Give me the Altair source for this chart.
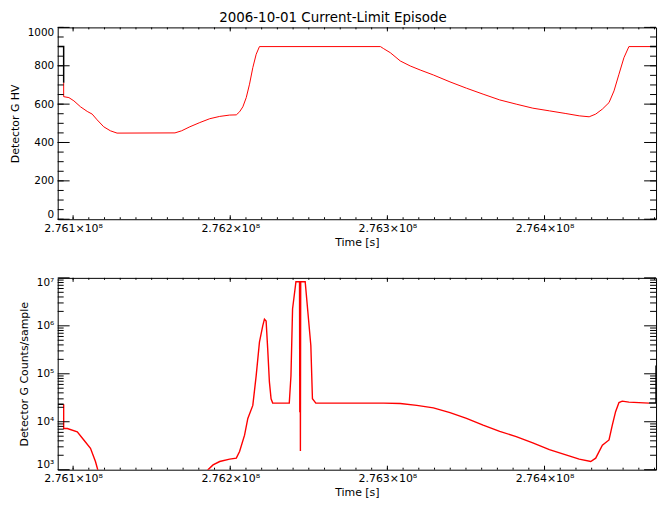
import altair as alt
import pandas as pd

FONT = "DejaVu Sans"

chart_title = "2006-10-01 Current-Limit Episode"
x_title = "Time [s]"
hv_title = "Detector G HV"
cnt_title = "Detector G Counts/sample"

# axis domains
x_domain = [276090200, 276470960]
hv_domain = [0, 1000]
cnt_domain = [1e3, 1e7]

# ticks
x_major = [276100000, 276200000, 276300000, 276400000]
x_minor = list(range(276100000, 276470001, 10000))
hv_major = [0, 200, 400, 600, 800, 1000]
hv_minor = list(range(0, 1001, 50))
cnt_major = [1e3, 1e4, 1e5, 1e6, 1e7]
cnt_minor = [m * 10 ** e for e in range(3, 7) for m in range(2, 10)]
cnt_tick_labels = ["10³", "10⁴", "10⁵", "10⁶", "10⁷"]

# detector HV (red trace)
hv_time = [276094000, 276094000, 276097340, 276100510, 276104740, 276108980,
           276112140, 276115310, 276119480, 276123720, 276127960, 276164830,
           276169070, 276174320, 276180640, 276186970, 276193290, 276199620,
           276203860, 276205940, 276208030, 276210180, 276212270, 276214360,
           276216510, 276218590, 276295570, 276297660, 276301890, 276308220,
           276314540, 276320870, 276329280, 276339840, 276350340, 276360910,
           276371470, 276381970, 276392530, 276403090, 276413590, 276422070,
           276428390, 276432570, 276436810, 276441040, 276444210, 276447370,
           276450530, 276453690, 276467170]
hv_value = [712, 639, 634, 617, 586, 562,
            548, 518, 482, 461, 449, 450,
            461, 482, 504, 524, 536, 543,
            544, 560, 586, 634, 704, 790,
            860, 900, 900, 889, 868, 825,
            799, 778, 752, 716, 683, 652,
            622, 600, 579, 565, 551, 539,
            534, 548, 574, 608, 669, 756,
            842, 900, 900]

# detector HV (black pieces at the edges)
hv_edge_time = [276090200, 276094000, 276094000, 276467170, 276470960]
hv_edge_value = [900, 900, 712, 900, 900]
hv_edge_piece = ["a", "a", "a", "b", "b"]

# detector counts (red trace)
cnt_time = [276094000, 276094000, 276096330, 276102660, 276106830, 276111070,
            276114230, 276115690, 276117390, 276183810, 276185890, 276189060,
            276193290, 276199620, 276203860, 276205940, 276209110, 276211190,
            276214360, 276216510, 276218590, 276220680, 276221760, 276222830,
            276223840, 276224920, 276225990, 276227010, 276237570, 276238640,
            276239660, 276241810, 276244080, 276244270, 276244460, 276244650,
            276244840, 276247690, 276251290, 276252310, 276254460, 276297660,
            276308220, 276318720, 276329280, 276339840, 276350340, 276360910,
            276371470, 276381970, 276392530, 276403090, 276413590, 276422070,
            276429410, 276432570, 276436810, 276441040, 276443130, 276445220,
            276447370, 276449460, 276453690, 276466530]
cnt_value = [23100, 7240, 7240, 6170, 4170, 2790,
             1480, 1000, 630, 630, 1000, 1260,
             1480, 1660, 1740, 2400, 5250, 11750,
             21900, 91200, 457000, 1000000, 1380000, 1260000,
             331000, 67600, 30200, 24500, 24500, 91200,
             2240000, 8300000, 8300000, 15800, 8300000, 2450,
             8300000, 8300000, 389000, 30200, 24500, 24500,
             24000, 21900, 19500, 15500, 11750, 8500,
             6300, 4900, 3630, 2630, 2040, 1660,
             1480, 1740, 3240, 4170, 8500, 16200,
             25100, 26900, 25700, 24500]

# detector counts (black pieces at the edges)
cnt_edge_time = [276090200, 276094000, 276466530, 276470960, 276470960]
cnt_edge_value = [23100, 23100, 24500, 24500, 148000]
cnt_edge_piece = ["a", "a", "b", "b", "b"]

W, H = 602, 193
X_MAJ, X_MIN, Y_MAJ, Y_MIN = 4, 2, 12, 6

x_label_expr = "format(datum.value / 1e8, '.3f') + '×10⁸'"
cnt_label_expr = ""
for v, lab in zip(cnt_major, cnt_tick_labels):
    cnt_label_expr += f"datum.value == {v:.0f} ? '{lab}' : "
cnt_label_expr += "''"


def panel(t, v, et, ev, ep, ydomain, ytype, ymajor, yminor, ytitle, ylabel_expr, width_line):
    xs = alt.Scale(domain=x_domain, nice=False, zero=False)
    ys = alt.Scale(domain=ydomain, type=ytype, nice=False, zero=False)
    xa = alt.Axis(values=x_major, labelExpr=x_label_expr, ticks=False, domain=False, grid=False,
                  title=x_title, labelPadding=3, titlePadding=3)
    ya = alt.Axis(values=ymajor, labelExpr=ylabel_expr, ticks=False, domain=False, grid=False,
                  title=ytitle, labelPadding=4, labelFlush=True, titlePadding=7)
    X = lambda: alt.X("t:Q", scale=xs, axis=xa)
    Y = lambda: alt.Y("v:Q", scale=ys, axis=ya)
    line_df = pd.DataFrame({"t": t, "v": v})
    edge_df = pd.DataFrame({"t": et, "v": ev, "p": ep})
    line = alt.Chart(line_df).mark_line(color="#ff0000", strokeWidth=width_line, clip=True).encode(
        x=X(), y=Y())
    edge = alt.Chart(edge_df).mark_line(color="black", strokeWidth=1.5, clip=True).encode(
        x=X(), y=Y(), detail="p:N")
    layers = [line, edge]
    for vals, ln in ((x_major, X_MAJ), (x_minor, X_MIN)):
        df = pd.DataFrame({"t": vals})
        for y0, y1 in ((H, H - ln), (0, ln)):
            layers.append(alt.Chart(df).mark_rule(color="black", strokeWidth=1).encode(
                x=X(), y=alt.value(y0), y2=alt.value(y1)))
    for vals, ln in ((ymajor, Y_MAJ), (yminor, Y_MIN)):
        df = pd.DataFrame({"v": vals})
        for x0, x1 in ((0, ln), (W, W - ln)):
            layers.append(alt.Chart(df).mark_rule(color="black", strokeWidth=1).encode(
                y=Y(), x=alt.value(x0), x2=alt.value(x1)))
    return alt.layer(*layers).properties(width=W, height=H)


top = panel(hv_time, hv_value, hv_edge_time, hv_edge_value, hv_edge_piece, hv_domain, "linear",
            hv_major, hv_minor, hv_title, "format(datum.value, 'd')", 1)
bottom = panel(cnt_time, cnt_value, cnt_edge_time, cnt_edge_value, cnt_edge_piece, cnt_domain, "log",
               cnt_major, cnt_minor, cnt_title, cnt_label_expr, 1.4)

chart = alt.VConcatChart(vconcat=[top, bottom], spacing=59, bounds="flush").properties(
    title=alt.TitleParams(chart_title, anchor="middle", fontSize=13.5, font=FONT, fontWeight="normal",
                          color="black", offset=2),
    padding={"left": 0, "top": 1, "right": 5, "bottom": 5},
    background="white",
).configure_view(stroke="black", strokeWidth=1).configure_axis(
    labelFont=FONT, labelColor="black",
    titleFont=FONT, titleFontSize=11, titleFontWeight="normal", titleColor="black",
).configure_axisX(labelFontSize=11).configure_axisY(labelFontSize=10.5)

chart.save("out.html", embed_options={"renderer": "svg", "actions": False})
